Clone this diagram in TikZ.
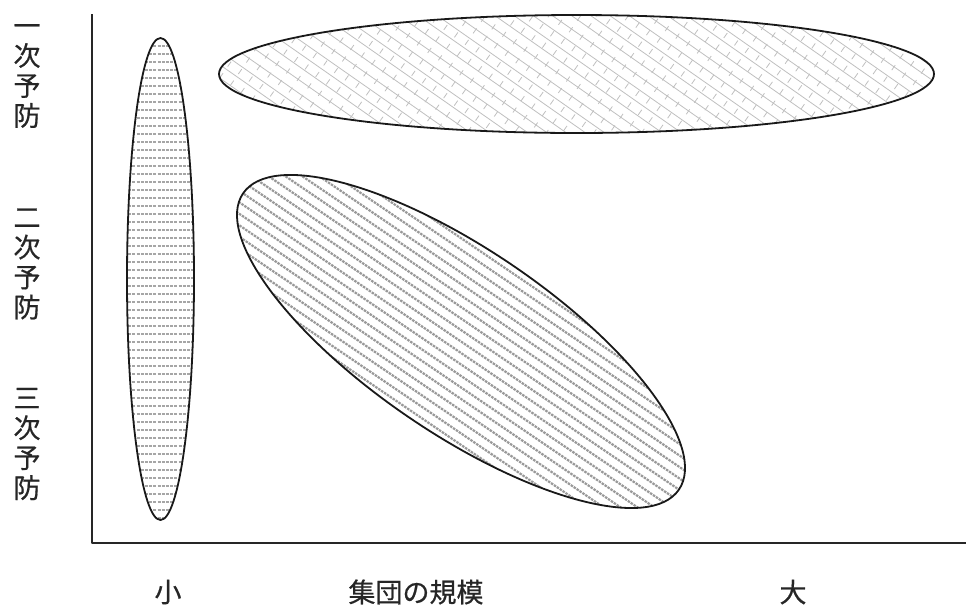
\documentclass[tikz,border=0pt]{standalone}
\usepackage{fontspec}
\newfontfamily\jpfont[FakeBold=0.6]{Noto Sans CJK JP}
\begin{document}
\begin{tikzpicture}[x=1pt,y=-1pt, line join=round,
  outline/.style={draw=black!90, line width=1.8pt},
  axisline/.style={draw=black!85, line width=2.4pt},
  hhatch/.style={draw=black!35, line width=1.5pt, dash pattern=on 3pt off 1.2pt},
  dhatch/.style={draw=black!40, line width=2.2pt, dash pattern=on 2.5pt off 1pt},
  bhatch/.style={draw=black!25, line width=0.8pt},
  bcross/.style={draw=black!25, line width=0.8pt, dash pattern=on 6pt off 8pt},
  lbl/.style={font=\jpfont\fontsize{27}{30}\selectfont, align=center, inner sep=0pt, text=black!85}]
\useasboundingbox (0,0) rectangle (966,606);

% vertical ellipse
\coordinate (e1) at (160.5,279);
\begin{scope}
  \clip (e1) ellipse [x radius=33.5pt, y radius=241pt];
  \foreach \y in {38,46,...,522} \draw[hhatch] (124,\y) -- (198,\y);
\end{scope}
\draw[outline] (e1) ellipse [x radius=33.5pt, y radius=241pt];

% top ellipse
\coordinate (e2) at (576.5,74);
\begin{scope}
  \clip (e2) ellipse [x radius=357.5pt, y radius=59pt];
  \begin{scope}[rotate around={-35:(e2)}]
    \foreach \v in {-320,-309,...,320} \draw[bhatch] ([shift={(-420,\v)}]e2) -- ([shift={(420,\v)}]e2);
    \foreach \u in {-420,-407,...,420} \draw[bcross] ([shift={(\u,-330)}]e2) -- ([shift={(\u,330)}]e2);
  \end{scope}
\end{scope}
\draw[outline] (e2) ellipse [x radius=357.5pt, y radius=59pt];

% rotated ellipse
\coordinate (e3) at (461,341.5);
\begin{scope}
  \clip[rotate around={-34.2:(e3)}] (e3) ellipse [x radius=263.5pt, y radius=92pt];
  \begin{scope}[rotate around={-34.2:(e3)}]
    \foreach \v in {-95,-85.5,...,96} \draw[dhatch] ([shift={(-280,\v)}]e3) -- ([shift={(280,\v)}]e3);
  \end{scope}
\end{scope}
\draw[outline, rotate around={-34.2:(e3)}] (e3) ellipse [x radius=263.5pt, y radius=92pt];

% axes
\coordinate (top) at (92,14);
\coordinate (o) at (92,543);
\coordinate (right) at (966,543);
\draw[axisline] (top) -- (o) -- (right);

% labels
\node[lbl] (p1) at (27,76) {一\\次\\予\\防};
\node[lbl] (p2) at (27,264) {二\\次\\予\\防};
\node[lbl] (p3) at (27,444) {三\\次\\予\\防};
\node[lbl] (small) at (168,592) {小};
\node[lbl] (size) at (416,592) {集団の規模};
\node[lbl] (large) at (793,592) {大};
\end{tikzpicture}
\end{document}
